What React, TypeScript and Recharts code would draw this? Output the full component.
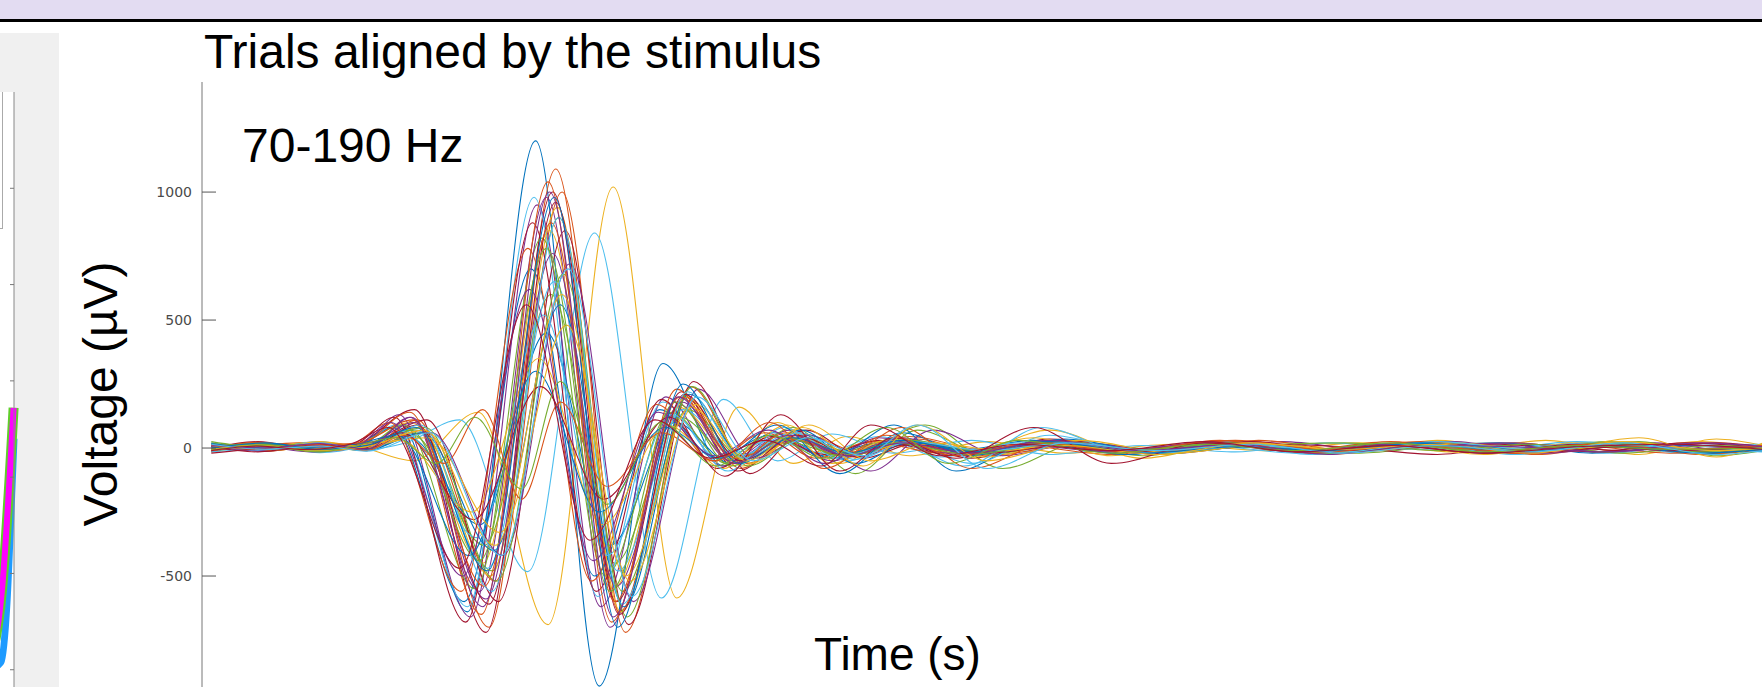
import { Line, LineChart, XAxis, YAxis } from 'recharts';

type Pt = [number, number];

// MATLAB default line colour order
const lineColors = ['#0072BD', '#D95319', '#EDB120', '#7E2F8E', '#77AC30', '#4DBEEE', '#A2142F'];

const timeTicks = [0, 0.1, 0.2, 0.3, 0.4, 0.5, 0.6, 0.7, 0.8, 0.9, 1.0];
const voltTicks = [-500, 0, 500, 1000];

// trials 1-14 (time in s, voltage in µV) at the extrema
const trialsA: Pt[][] = [
  [[0,5],[0.035,18],[0.07,-12],[0.095,10],[0.122,90],[0.165,-640],[0.209,1200],[0.25,-930],[0.291,330],[0.33,-70],[0.362,60],[0.4,-40],[0.44,30],[0.49,-22],[0.545,25],[0.6,-15],[0.66,20],[0.72,-10],[0.78,15],[0.84,-20],[0.9,10],[0.96,-15],[1,5]],
  [[0,-8],[0.03,10],[0.065,22],[0.098,-5],[0.133,110],[0.179,-700],[0.222,1090],[0.263,-640],[0.305,200],[0.341,-80],[0.376,50],[0.41,-30],[0.45,45],[0.5,-10],[0.55,20],[0.61,-25],[0.67,15],[0.73,-5],[0.79,25],[0.85,-10],[0.91,20],[0.97,-20],[1,0]],
  [[0,15],[0.03,-5],[0.06,20],[0.095,5],[0.13,-50],[0.172,140],[0.217,-690],[0.259,1020],[0.3,-586],[0.34,160],[0.375,-60],[0.41,45],[0.45,-30],[0.5,25],[0.55,-20],[0.62,15],[0.68,-10],[0.74,20],[0.8,-15],[0.86,30],[0.92,-25],[0.97,35],[1,10]],
  [[0,10],[0.04,-6],[0.075,15],[0.1,0],[0.128,120],[0.173,-560],[0.216,980],[0.257,-700],[0.299,180],[0.335,-50],[0.373,70],[0.41,-20],[0.45,25],[0.5,-15],[0.56,10],[0.62,-20],[0.69,25],[0.75,-10],[0.81,15],[0.87,-5],[0.93,20],[0.98,-10],[1,5]],
  [[0,-15],[0.03,5],[0.07,-10],[0.1,12],[0.135,60],[0.181,-480],[0.224,900],[0.265,-560],[0.307,150],[0.343,-40],[0.377,30],[0.415,-25],[0.46,90],[0.51,-80],[0.56,20],[0.62,-10],[0.68,15],[0.74,-20],[0.8,10],[0.86,-5],[0.92,25],[0.97,-30],[1,-10]],
  [[0,20],[0.035,0],[0.07,25],[0.1,-5],[0.125,20],[0.16,110],[0.204,-483],[0.247,840],[0.29,-586],[0.33,190],[0.365,-50],[0.4,55],[0.44,-20],[0.49,30],[0.54,-25],[0.6,10],[0.66,-15],[0.72,20],[0.78,-5],[0.84,15],[0.9,-20],[0.95,10],[1,15]],
  [[0,0],[0.03,25],[0.065,-8],[0.095,18],[0.131,150],[0.177,-720],[0.22,1000],[0.261,-600],[0.303,220],[0.339,-90],[0.375,40],[0.41,-35],[0.445,30],[0.49,-40],[0.54,35],[0.6,-10],[0.66,25],[0.72,-15],[0.78,20],[0.84,-15],[0.9,15],[0.96,-5],[1,10]],
  [[0,-5],[0.035,12],[0.07,0],[0.092,8],[0.117,80],[0.163,-600],[0.206,700],[0.247,-500],[0.289,150],[0.325,-40],[0.36,50],[0.395,-30],[0.43,20],[0.48,-10],[0.53,30],[0.59,-25],[0.65,10],[0.71,-5],[0.77,20],[0.83,-20],[0.89,5],[0.95,-10],[1,-5]],
  [[0,12],[0.04,-10],[0.07,16],[0.1,-3],[0.137,70],[0.183,-520],[0.226,1000],[0.267,-720],[0.309,240],[0.345,-60],[0.381,55],[0.42,-20],[0.455,35],[0.5,-30],[0.555,10],[0.615,-20],[0.675,30],[0.735,-10],[0.795,5],[0.855,-25],[0.915,20],[0.965,-10],[1,0]],
  [[0,-10],[0.03,15],[0.06,-5],[0.095,20],[0.129,100],[0.175,-450],[0.218,850],[0.259,-550],[0.301,160],[0.337,-30],[0.371,90],[0.405,-60],[0.44,40],[0.49,-15],[0.54,70],[0.6,-40],[0.66,20],[0.72,-25],[0.78,10],[0.84,20],[0.9,-15],[0.96,25],[1,-5]],
  [[0,8],[0.035,-12],[0.07,20],[0.095,2],[0.121,130],[0.167,-660],[0.21,950],[0.251,-620],[0.293,200],[0.329,-70],[0.365,45],[0.4,-50],[0.435,20],[0.48,-20],[0.53,15],[0.59,-10],[0.65,25],[0.71,-20],[0.77,10],[0.83,-5],[0.89,20],[0.95,-15],[1,10]],
  [[0,25],[0.03,5],[0.065,18],[0.1,-8],[0.13,50],[0.176,-380],[0.219,600],[0.26,-450],[0.302,120],[0.338,-50],[0.375,80],[0.415,-100],[0.455,70],[0.5,-25],[0.55,15],[0.61,-15],[0.67,10],[0.73,-10],[0.79,20],[0.85,-10],[0.91,5],[0.97,-20],[1,-10]],
  [[0,-12],[0.035,8],[0.07,-18],[0.095,5],[0.119,90],[0.165,-620],[0.208,980],[0.249,-580],[0.291,180],[0.327,-40],[0.361,30],[0.395,-20],[0.43,45],[0.47,-35],[0.52,20],[0.58,-15],[0.64,10],[0.7,-20],[0.76,15],[0.82,-10],[0.88,25],[0.94,-5],[1,10]],
  [[0,5],[0.03,-15],[0.07,10],[0.1,15],[0.139,110],[0.185,-600],[0.228,850],[0.269,-690],[0.311,260],[0.347,-100],[0.383,70],[0.42,-40],[0.455,20],[0.5,-15],[0.55,30],[0.61,-20],[0.67,15],[0.73,5],[0.79,-25],[0.85,15],[0.91,-10],[0.97,20],[1,5]],
];

// trials 15-28
const trialsB: Pt[][] = [
  [[0,15],[0.04,0],[0.07,12],[0.1,-10],[0.128,40],[0.173,-300],[0.216,450],[0.257,-380],[0.299,100],[0.335,-60],[0.371,40],[0.405,-15],[0.44,90],[0.48,-90],[0.53,25],[0.59,-10],[0.65,20],[0.71,-15],[0.77,5],[0.83,20],[0.89,-20],[0.95,10],[1,0]],
  [[0,-5],[0.03,20],[0.06,-3],[0.09,14],[0.115,100],[0.161,-560],[0.204,780],[0.245,-520],[0.287,170],[0.323,-50],[0.357,60],[0.39,-40],[0.425,25],[0.47,-20],[0.52,10],[0.58,-25],[0.64,20],[0.7,-10],[0.76,25],[0.82,-15],[0.88,10],[0.94,-20],[1,5]],
  [[0,10],[0.035,-8],[0.07,25],[0.1,5],[0.134,80],[0.18,-500],[0.223,940],[0.264,-640],[0.306,200],[0.342,-70],[0.378,40],[0.415,-20],[0.45,20],[0.5,-35],[0.55,25],[0.61,-10],[0.67,15],[0.73,-20],[0.79,30],[0.85,-15],[0.91,10],[0.97,-5],[1,15]],
  [[0,-10],[0.03,10],[0.065,-5],[0.1,20],[0.142,60],[0.188,-420],[0.231,720],[0.272,-600],[0.314,230],[0.35,-40],[0.385,50],[0.425,-90],[0.465,70],[0.51,-30],[0.56,20],[0.62,-15],[0.68,10],[0.74,-10],[0.8,25],[0.86,-20],[0.92,15],[0.97,-10],[1,0]],
  [[0,20],[0.035,-5],[0.065,10],[0.095,-8],[0.124,90],[0.17,-550],[0.213,820],[0.254,-500],[0.296,140],[0.332,-60],[0.367,30],[0.403,-20],[0.44,35],[0.49,-10],[0.545,20],[0.6,-30],[0.66,15],[0.72,-5],[0.78,20],[0.84,-10],[0.9,25],[0.96,-15],[1,5]],
  [[0,0],[0.03,15],[0.07,-10],[0.1,10],[0.132,70],[0.178,-470],[0.221,650],[0.262,-480],[0.304,150],[0.34,-30],[0.375,60],[0.41,-50],[0.445,30],[0.49,-60],[0.54,50],[0.6,-10],[0.66,25],[0.72,-15],[0.78,10],[0.84,-25],[0.9,15],[0.96,-5],[1,-15]],
  [[0,-12],[0.035,10],[0.07,-5],[0.093,15],[0.118,120],[0.164,-680],[0.207,880],[0.248,-560],[0.29,190],[0.326,-80],[0.361,45],[0.395,-25],[0.43,30],[0.48,-30],[0.53,15],[0.59,-5],[0.65,20],[0.71,-20],[0.77,10],[0.83,15],[0.89,-15],[0.95,20],[1,0]],
  [[0,18],[0.035,-2],[0.07,14],[0.1,-6],[0.136,60],[0.182,-400],[0.225,560],[0.266,-620],[0.308,210],[0.344,-40],[0.38,70],[0.415,-60],[0.45,20],[0.5,-15],[0.55,35],[0.61,-20],[0.67,5],[0.73,-15],[0.79,20],[0.85,-5],[0.91,15],[0.97,-20],[1,5]],
  [[0,-3],[0.03,22],[0.065,5],[0.095,12],[0.128,140],[0.174,-650],[0.217,1040],[0.258,-680],[0.3,230],[0.336,-60],[0.371,60],[0.405,-30],[0.44,25],[0.49,-20],[0.54,15],[0.6,-15],[0.66,30],[0.72,-10],[0.78,15],[0.84,-20],[0.9,10],[0.96,-10],[1,5]],
  [[0,12],[0.04,-10],[0.075,20],[0.1,0],[0.122,30],[0.168,-250],[0.211,350],[0.252,-300],[0.294,90],[0.33,-80],[0.365,100],[0.4,-60],[0.435,30],[0.48,-20],[0.53,40],[0.58,-30],[0.64,20],[0.7,-10],[0.76,15],[0.82,-25],[0.88,20],[0.94,-10],[1,10]],
  [[0,-8],[0.03,6],[0.065,-15],[0.1,10],[0.131,100],[0.177,-590],[0.22,760],[0.261,-540],[0.303,180],[0.339,-50],[0.375,30],[0.41,-30],[0.445,40],[0.49,-25],[0.54,20],[0.6,-10],[0.66,15],[0.72,-20],[0.78,5],[0.84,20],[0.9,-15],[0.96,10],[1,-5]],
  [[0,5],[0.035,18],[0.07,-8],[0.1,6],[0.138,80],[0.184,-520],[0.227,680],[0.268,-660],[0.31,240],[0.346,-70],[0.381,40],[0.415,-25],[0.45,30],[0.5,-15],[0.55,25],[0.61,-25],[0.67,10],[0.73,20],[0.79,-10],[0.85,15],[0.91,-20],[0.97,10],[1,0]],
  [[0,-15],[0.03,-2],[0.065,12],[0.095,-5],[0.125,60],[0.171,-350],[0.214,520],[0.255,-420],[0.297,130],[0.333,-90],[0.369,80],[0.405,-40],[0.44,25],[0.485,-70],[0.535,80],[0.59,-15],[0.65,20],[0.71,-25],[0.77,10],[0.83,-5],[0.89,20],[0.95,-20],[1,10]],
  [[0,8],[0.035,-12],[0.07,15],[0.1,-2],[0.133,90],[0.179,-610],[0.222,960],[0.263,-650],[0.305,210],[0.341,-50],[0.377,50],[0.415,-35],[0.45,15],[0.5,-20],[0.55,10],[0.61,-15],[0.67,25],[0.73,-10],[0.79,15],[0.85,-20],[0.91,5],[0.97,-15],[1,10]],
];

// trials 29-42
const trialsC: Pt[][] = [
  [[0,-5],[0.035,15],[0.07,0],[0.095,18],[0.12,50],[0.166,-420],[0.209,300],[0.25,-250],[0.292,80],[0.328,-40],[0.365,90],[0.405,-100],[0.445,60],[0.49,-30],[0.53,20],[0.59,-25],[0.65,10],[0.71,-15],[0.77,20],[0.83,-10],[0.89,10],[0.95,-5],[1,-10]],
  [[0,14],[0.03,-6],[0.065,10],[0.095,20],[0.13,110],[0.176,-540],[0.219,880],[0.26,-600],[0.302,200],[0.338,-40],[0.373,35],[0.41,-20],[0.445,80],[0.49,-80],[0.54,20],[0.6,-20],[0.66,15],[0.72,-5],[0.78,25],[0.84,-15],[0.9,20],[0.96,-25],[1,-5]],
  [[0,-10],[0.035,10],[0.07,-2],[0.1,15],[0.14,40],[0.186,-330],[0.229,480],[0.27,-520],[0.312,170],[0.348,-60],[0.385,90],[0.425,-50],[0.465,20],[0.51,-10],[0.56,30],[0.62,-20],[0.68,15],[0.74,-15],[0.8,20],[0.86,-10],[0.92,40],[0.97,-35],[1,20]],
  [[0,6],[0.03,-10],[0.06,14],[0.09,-4],[0.116,100],[0.162,-500],[0.205,620],[0.246,-440],[0.288,140],[0.324,-30],[0.359,70],[0.395,-60],[0.43,40],[0.475,-20],[0.525,10],[0.58,-15],[0.64,20],[0.7,-10],[0.76,15],[0.82,-20],[0.88,10],[0.94,-5],[1,10]],
  [[0,-4],[0.035,14],[0.07,-10],[0.1,8],[0.128,70],[0.173,-440],[0.216,780],[0.257,-560],[0.299,180],[0.335,-70],[0.371,40],[0.405,-30],[0.44,20],[0.49,-25],[0.54,15],[0.6,-5],[0.66,20],[0.72,-20],[0.78,10],[0.84,-10],[0.9,20],[0.96,-15],[1,0]],
  [[0,10],[0.03,-8],[0.07,20],[0.1,-10],[0.135,90],[0.181,-560],[0.224,900],[0.265,-610],[0.307,220],[0.343,-40],[0.379,60],[0.415,-45],[0.45,25],[0.5,-10],[0.55,20],[0.61,-20],[0.67,10],[0.73,-15],[0.79,25],[0.85,-5],[0.91,10],[0.97,-10],[1,5]],
  [[0,-20],[0.035,0],[0.07,15],[0.095,-5],[0.123,60],[0.169,-280],[0.212,240],[0.253,-200],[0.295,120],[0.331,-110],[0.367,130],[0.405,-90],[0.44,40],[0.48,-40],[0.53,80],[0.58,-60],[0.64,20],[0.7,-15],[0.76,10],[0.82,-20],[0.88,15],[0.94,-10],[1,5]],
  [[0,0],[0.035,20],[0.07,-5],[0.1,10],[0.132,80],[0.178,-480],[0.221,980],[0.262,-700],[0.304,250],[0.34,-60],[0.375,40],[0.41,-20],[0.445,30],[0.49,-15],[0.54,25],[0.6,-20],[0.66,5],[0.72,-10],[0.78,20],[0.84,-15],[0.9,10],[0.96,-20],[1,-5]],
  [[0,10],[0.03,-5],[0.065,15],[0.1,-10],[0.124,50],[0.15,-60],[0.175,150],[0.2,-200],[0.225,180],[0.255,-150],[0.29,60],[0.325,-50],[0.36,100],[0.395,-80],[0.435,50],[0.48,-30],[0.53,20],[0.59,-15],[0.65,30],[0.71,-20],[0.77,10],[0.83,-10],[0.89,15],[0.95,-5],[1,10]],
  [[0,-6],[0.03,12],[0.065,-12],[0.1,5],[0.137,70],[0.183,-380],[0.226,600],[0.267,-500],[0.309,160],[0.345,-50],[0.381,80],[0.42,-70],[0.455,90],[0.5,-50],[0.55,10],[0.61,-25],[0.67,20],[0.73,-5],[0.79,15],[0.85,-20],[0.91,25],[0.97,-10],[1,0]],
  [[0,12],[0.035,0],[0.07,18],[0.1,-4],[0.129,120],[0.175,-620],[0.218,1000],[0.259,-660],[0.301,200],[0.337,-60],[0.373,50],[0.41,-30],[0.445,20],[0.49,-20],[0.54,30],[0.6,-10],[0.66,15],[0.72,-25],[0.78,10],[0.84,5],[0.9,-15],[0.96,20],[1,5]],
  [[0,-8],[0.03,10],[0.07,-15],[0.095,12],[0.119,40],[0.145,-60],[0.17,120],[0.2,-160],[0.225,260],[0.255,-220],[0.29,100],[0.325,-70],[0.36,50],[0.395,-40],[0.435,80],[0.475,-60],[0.52,30],[0.58,-20],[0.64,15],[0.7,-10],[0.76,20],[0.82,-15],[0.88,10],[0.94,-5],[1,0]],
  [[0,15],[0.035,-5],[0.07,8],[0.1,-12],[0.141,60],[0.187,-420],[0.23,700],[0.271,-580],[0.313,200],[0.349,-50],[0.385,40],[0.42,-30],[0.455,90],[0.5,-80],[0.55,20],[0.61,-10],[0.67,15],[0.73,-20],[0.79,10],[0.85,-15],[0.91,20],[0.97,-25],[1,-10]],
  [[0,-10],[0.03,8],[0.06,-6],[0.09,16],[0.114,80],[0.16,-470],[0.203,560],[0.244,-360],[0.286,110],[0.322,-40],[0.357,30],[0.393,-70],[0.425,90],[0.47,-30],[0.52,15],[0.58,-10],[0.64,25],[0.7,-15],[0.76,10],[0.82,-20],[0.88,5],[0.94,15],[1,-5]],
];

// neighbouring (cut off) panel on the left
const panelTicks = [0, 1, 2, 3, 4, 5];
const pinkTrace: Pt[] = [[8.8, 0.1], [9.4, 0.83], [9.98, 2.72]];
const blueTrace: Pt[] = [[8.8, 0.0], [9.35, 0.08], [9.65, 0.7], [9.9, 1.9], [10.0, 2.4]];

const trials = [...trialsA, ...trialsB, ...trialsC];
const toRows = (pts: Pt[]) => pts.map(([t, v]) => ({ t, v }));

const FONT = "'Liberation Sans', Arial, sans-serif";

function TopTick(props: any) {
  const { x, y } = props;
  return <line x1={x} y1={y} x2={x} y2={y + 12} stroke="#555" strokeWidth={1} />;
}

function LeftTick(props: any) {
  const { x, y, payload } = props;
  return (
    <g>
      <text x={x} y={y} dy="0.36em" textAnchor="end" fontSize={14} fontFamily="'DejaVu Sans', sans-serif" fill="#4a4a4a">
        {payload.value}
      </text>
      <line x1={x + 10} y1={y} x2={x + 24} y2={y} stroke="#555" strokeWidth={1} />
    </g>
  );
}

function RightTick(props: any) {
  const { x, y } = props;
  return <line x1={x - 14} y1={y} x2={x} y2={y} stroke="#555" strokeWidth={1} />;
}

function PanelTick(props: any) {
  const { x, y } = props;
  return <line x1={x - 4} y1={y} x2={x} y2={y} stroke="#777" strokeWidth={1} />;
}

export default function App() {
  return (
    <div style={{ position: 'absolute', left: 0, top: 0, width: 1762, height: 687, overflow: 'hidden', background: '#fff' }}>
      <div style={{ position: 'absolute', left: 0, top: 0, width: 1762, height: 19, background: '#e3dcf2' }} />
      <div style={{ position: 'absolute', left: 0, top: 19, width: 1762, height: 3, background: '#000' }} />
      <div style={{ position: 'absolute', left: 0, top: 33, width: 59, height: 654, background: '#f0f0f0' }} />
      <div style={{ position: 'absolute', left: 0, top: 92, width: 14, height: 600, background: '#fff' }} />
      <div style={{ position: 'absolute', left: -20, top: 92, width: 22, height: 136, borderRight: '1px solid #aaa', borderBottom: '1px solid #aaa' }} />

      <div style={{ position: 'absolute', left: -186, top: 0 }}>
        <LineChart width={210} height={700} margin={{ top: 92, right: 0, left: 0, bottom: 11 }}>
          <XAxis xAxisId="p" type="number" dataKey="t" domain={[0, 10]} orientation="top" height={0} tick={false} tickLine={false} axisLine={{ stroke: '#999' }} />
          <YAxis yAxisId="p" type="number" domain={[-0.2, 6]} ticks={panelTicks} orientation="right" width={10} tickSize={0} tickMargin={0} tickLine={false} tick={PanelTick} axisLine={{ stroke: '#888' }} interval={0} />
          <Line xAxisId="p" yAxisId="p" data={toRows(blueTrace)} dataKey="v" type="monotone" stroke="#1e9bff" strokeWidth={7} dot={false} isAnimationActive={false} />
          <Line xAxisId="p" yAxisId="p" data={toRows(pinkTrace)} dataKey="v" type="monotone" stroke="#5fcf2a" strokeWidth={10} dot={false} isAnimationActive={false} />
          <Line xAxisId="p" yAxisId="p" data={toRows(pinkTrace)} dataKey="v" type="monotone" stroke="#ff00ff" strokeWidth={6} dot={false} isAnimationActive={false} />
        </LineChart>
      </div>

      <div style={{ position: 'absolute', left: 0, top: 0 }}>
        <LineChart width={1800} height={760} margin={{ top: 82, right: 27, left: 142, bottom: 56 }}>
          <XAxis type="number" dataKey="t" domain={[-0.006, 1.0]} ticks={timeTicks} orientation="top" height={0} tickSize={0} tickMargin={0} tickLine={false} tick={TopTick} interval={0} axisLine={{ stroke: '#999' }} allowDataOverflow />
          <YAxis yAxisId="v" type="number" domain={[-1000, 1430]} ticks={voltTicks} width={60} tickSize={0} tickMargin={10} tickLine={false} tick={LeftTick} interval={0} axisLine={{ stroke: '#777' }} allowDataOverflow />
          <YAxis yAxisId="r" type="number" domain={[-1000, 1430]} ticks={voltTicks} orientation="right" width={10} tickSize={0} tickMargin={0} tickLine={false} tick={RightTick} interval={0} axisLine={false} />
          {trials.map((pts, i) => (
            <Line
              key={i}
              yAxisId="v"
              data={toRows(pts)}
              dataKey="v"
              type="monotone"
              stroke={lineColors[i % lineColors.length]}
              strokeWidth={1.1}
              dot={false}
              isAnimationActive={false}
            />
          ))}
        </LineChart>
      </div>

      <svg width={1762} height={687} style={{ position: 'absolute', left: 0, top: 0, pointerEvents: 'none' }}>
        <text x={204} y={68} fontSize={48} fontFamily={FONT} fill="#000">Trials aligned by the stimulus</text>
        <text x={242} y={162} fontSize={48} fontFamily={FONT} fill="#000">70-190 Hz</text>
        <text x={117} y={394} fontSize={48} fontFamily={FONT} fill="#000" textAnchor="middle" transform="rotate(-90 117 394)">Voltage (µV)</text>
        <text x={814} y={670} fontSize={46} fontFamily={FONT} fill="#000">Time (s)</text>
      </svg>
    </div>
  );
}
